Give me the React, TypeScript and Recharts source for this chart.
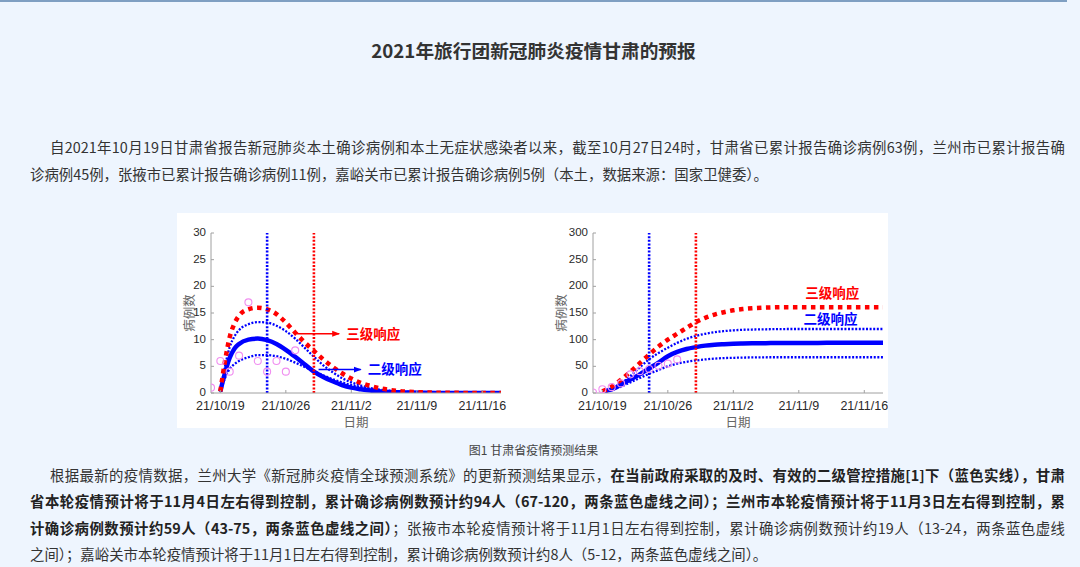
import React from 'react';
import { ComposedChart, Line, Scatter, XAxis, YAxis, ReferenceLine, ReferenceDot, Label } from 'recharts';

// ---- data ----
const days = [-1, 0, 0.5, 1, 1.5, 2, 3, 4, 5, 6, 7, 8, 9, 10, 11, 12, 13, 14, 15, 16, 17, 18, 19, 20, 22, 24, 26, 28, 30];
const dailyMid = [null, 0.3, 3.8, 6.6, 8.3, 9.2, 10.0, 10.2, 9.9, 9.2, 8.1, 6.8, 5.4, 4.0, 3.0, 2.2, 1.5, 1.0, 0.7, 0.45, 0.3, 0.2, 0.12, 0.08, 0.03, 0.01, 0, 0, 0];
const dailyHigh = [null, 0.3, 5.0, 8.6, 10.6, 11.8, 12.9, 13.3, 13.2, 12.6, 11.6, 10.2, 8.5, 6.8, 5.2, 3.9, 2.8, 2.0, 1.4, 0.95, 0.65, 0.45, 0.3, 0.2, 0.08, 0.03, 0.01, 0, 0];
const dailyLow = [null, 0.2, 2.8, 4.5, 5.4, 6.0, 6.7, 7.1, 7.1, 6.9, 6.4, 5.7, 4.9, 4.1, 3.3, 2.6, 2.0, 1.5, 1.1, 0.8, 0.55, 0.4, 0.28, 0.2, 0.09, 0.04, 0.02, 0, 0];
const dailyRed = [null, 0.3, 6.0, 10.5, 13.0, 14.5, 15.7, 16.0, 15.7, 14.8, 13.2, 11.3, 9.5, 7.9, 6.3, 4.9, 3.7, 2.7, 1.9, 1.35, 0.9, 0.6, 0.38, 0.24, 0.1, 0.04, 0.02, 0, 0];

const cumMid = [null, 2, 4.5, 7, 11, 16, 25.5, 35, 46, 57, 69, 77, 82.5, 86, 88.8, 90.5, 91.5, 92.3, 92.8, 93.2, 93.4, 93.6, 93.7, 93.8, 93.9, 94, 94, 94, 94];
const cumHigh = [null, 2, 5, 8, 12.5, 18, 32, 48, 63, 75, 85, 94, 101.5, 107, 111, 114, 116, 117.5, 118.5, 119, 119.3, 119.6, 119.8, 120, 120, 120, 120, 120, 120];
const cumLow = [null, 1.5, 3.5, 6, 9, 12, 20, 28, 36, 43, 50, 55, 58.5, 61, 63, 64.5, 65.5, 66, 66.4, 66.7, 66.9, 67, 67, 67, 67, 67, 67, 67, 67];
const cumRed = [null, 3, 7, 12, 18, 25, 40, 56, 72, 87, 100, 111, 122, 133, 141, 147, 151.5, 155, 157.3, 158.8, 159.8, 160.4, 160.8, 161, 161, 161, 161, 161, 161];

const obsDays = [-1, 0, 1, 2, 3, 4, 5, 6, 7, 8];
const obsDaily = [1, 6, 4, 7, 17, 6, 4, 6, 4, 8];
const obsCum = [1, 7, 11, 18, 35, 41, 45, 51, 55, 63];

const tickDays = [0, 7, 14, 21, 28];
const tickLabels = ['21/10/19', '21/10/26', '21/11/2', '21/11/9', '21/11/16'];
const dailyTicks = [0, 5, 10, 15, 20, 25, 30];
const cumTicks = [0, 50, 100, 150, 200, 250, 300];

const dailyData = days.map((d, i) => ({ d, mid: dailyMid[i], hi: dailyHigh[i], lo: dailyLow[i], red: dailyRed[i] }));
const cumData = days.map((d, i) => ({ d, mid: cumMid[i], hi: cumHigh[i], lo: cumLow[i], red: cumRed[i] }));
const dailyObs = obsDays.map((d, i) => ({ d, v: obsDaily[i] }));
const cumObs = obsDays.map((d, i) => ({ d, v: obsCum[i] }));

// ---- styles ----
const BLUE = '#0000ff';
const RED = '#ff0000';
const AXIS = '#a0a0a0';
const CJK = '"Noto Sans CJK SC", "Noto Sans", sans-serif';
const XTICK = { fill: '#2a2a2a', fontSize: 12.5, fontFamily: '"Liberation Sans", Arial, sans-serif' };
const YTICK = { fill: '#2a2a2a', fontSize: 11.5, dy: -1, fontFamily: '"Liberation Sans", Arial, sans-serif' };

const YTitle = (props: any) => {
  const vb = props.viewBox || { x: 0, y: 0, width: 0, height: 0 };
  const cx = vb.x + props.dx0;
  const cy = vb.y + vb.height / 2;
  return (
    <text x={cx} y={cy} transform={`rotate(-90 ${cx} ${cy})`} textAnchor="middle" dominantBaseline="central"
      fontSize={12.5} fill="#666" fontFamily={CJK}>病例数</text>
  );
};

const Circle = (p: any) => <circle cx={p.cx} cy={p.cy} r={3.5} fill="none" stroke="#f08ef0" strokeWidth={1.1} />;

type PanelProps = {
  data: any[]; obs: any[]; title: string; yTicks: number[]; yMax: number;
  width: number; yAxisWidth: number; marginRight: number; yLabelDx: number; children?: React.ReactNode;
};

function Panel({ data, obs, title, yTicks, yMax, width, yAxisWidth, marginRight, yLabelDx, children }: PanelProps) {
  return (
    <ComposedChart width={width} height={222} data={data} margin={{ top: 20, right: marginRight, left: 0, bottom: 7 }}>
      <defs>
        <marker id="arrR" markerWidth="8" markerHeight="8" refX="7" refY="4" orient="auto" markerUnits="userSpaceOnUse">
          <path d="M0,1 L8,4 L0,7 Z" fill={RED} />
        </marker>
        <marker id="arrB" markerWidth="8" markerHeight="8" refX="7" refY="4" orient="auto" markerUnits="userSpaceOnUse">
          <path d="M0,1 L8,4 L0,7 Z" fill={BLUE} />
        </marker>
      </defs>
      <XAxis dataKey="d" type="number" domain={[-1, 30]} ticks={tickDays} interval={0} allowDataOverflow
        tickFormatter={(v: number) => tickLabels[tickDays.indexOf(v)]} height={35} tickSize={-3} tickMargin={11}
        stroke={AXIS} tick={XTICK}>
        <Label value="日期" position="insideBottom" offset={1} fill="#666" fontSize={12.5} fontFamily={CJK} />
      </XAxis>
      <XAxis xAxisId="top" orientation="top" dataKey="d" type="number" domain={[-1, 30]} ticks={tickDays} interval={0}
        allowDataOverflow height={0} tickSize={-3} tick={false} stroke={AXIS}>
        <Label value={title} position="top" offset={4} fill="#555" fontSize={12} fontFamily={CJK} />
      </XAxis>
      <YAxis type="number" domain={[0, yMax]} ticks={yTicks} interval={0} allowDataOverflow width={yAxisWidth}
        tickSize={-3} tickMargin={8} stroke={AXIS} tick={YTICK}>
        <Label content={(p: any) => <YTitle {...p} dx0={yLabelDx} />} />
      </YAxis>
      <YAxis yAxisId="right" orientation="right" type="number" domain={[0, yMax]} ticks={yTicks} interval={0}
        width={0} tickSize={-3} tick={false} stroke={AXIS} />
      <Scatter data={obs} dataKey="v" shape={Circle} isAnimationActive={false} />
      <Line type="monotone" dataKey="lo" stroke={BLUE} strokeWidth={2.3} strokeDasharray="2 1.6" dot={false} isAnimationActive={false} />
      <Line type="monotone" dataKey="hi" stroke={BLUE} strokeWidth={2.3} strokeDasharray="2 1.6" dot={false} isAnimationActive={false} />
      <Line type="monotone" dataKey="mid" stroke={BLUE} strokeWidth={4.5} dot={false} isAnimationActive={false} />
      <Line type="monotone" dataKey="red" stroke={RED} strokeWidth={4.5} strokeDasharray="4.5 4.5" dot={false} isAnimationActive={false} />
      <ReferenceLine x={5} stroke={BLUE} strokeWidth={2.6} strokeDasharray="2 1.6" />
      <ReferenceLine x={10} stroke={RED} strokeWidth={2.6} strokeDasharray="2 1.6" />
      {children}
    </ComposedChart>
  );
}

const annot = { fontSize: 13.5, fontWeight: 700, fontFamily: CJK };

const base: React.CSSProperties = {
  position: 'absolute', fontFamily: CJK, color: '#333', fontSize: 14.4, lineHeight: '26px', height: 26, margin: 0,
};
const just: React.CSSProperties = { ...base, textAlign: 'justify', textAlignLast: 'justify' as any };
const B = ({ children }: { children: React.ReactNode }) => <b style={{ fontWeight: 700, color: '#222' }}>{children}</b>;

export default function App() {
  return (
    <div style={{ position: 'absolute', left: 0, top: 0, width: 1080, height: 567, background: '#eef5fe', overflow: 'hidden' }}>
      <div style={{ position: 'absolute', left: 0, top: 0, width: 1067, height: 2, background: '#7f9fc2' }} />
      <div style={{ position: 'absolute', left: 0, top: 35, width: 1067, textAlign: 'center', fontFamily: CJK, fontWeight: 700, fontSize: 18.7, lineHeight: '30px', color: '#333' }}>
        2021年旅行团新冠肺炎疫情甘肃的预报
      </div>

      <div style={{ ...just, left: 50, width: 1015, top: 134 }}>
        自2021年10月19日甘肃省报告新冠肺炎本土确诊病例和本土无症状感染者以来，截至10月27日24时，甘肃省已累计报告确诊病例63例，兰州市已累计报告确
      </div>
      <div style={{ ...base, left: 30, top: 161, whiteSpace: 'nowrap' }}>
        诊病例45例，张掖市已累计报告确诊病例11例，嘉峪关市已累计报告确诊病例5例（本土，数据来源：国家卫健委）。
      </div>

      <div style={{ position: 'absolute', left: 177, top: 213, width: 711, height: 215, background: '#ffffff' }}>
        <div style={{ position: 'absolute', left: 0, top: 0 }}>
          <Panel data={dailyData} obs={dailyObs} title="每日新增确诊" yTicks={dailyTicks} yMax={30}
            width={340} yAxisWidth={34} marginRight={16} yLabelDx={11}>
            <ReferenceLine segment={[{ x: 8.2, y: 11.1 }, { x: 12.7, y: 11.1 }]} stroke={RED} strokeWidth={1.5}
              markerEnd="url(#arrR)" label={{ value: '三级响应', position: 'right', offset: 7, fill: RED, ...annot }} />
            <ReferenceLine segment={[{ x: 10.5, y: 4.4 }, { x: 15.0, y: 4.4 }]} stroke={BLUE} strokeWidth={1.5}
              markerEnd="url(#arrB)" label={{ value: '二级响应', position: 'right', offset: 7, fill: BLUE, ...annot }} />
          </Panel>
        </div>
        <div style={{ position: 'absolute', left: 368, top: 0 }}>
          <Panel data={cumData} obs={cumObs} title="累计确诊" yTicks={cumTicks} yMax={300}
            width={343} yAxisWidth={48} marginRight={5} yLabelDx={15}>
            <ReferenceDot x={21.7} y={188} r={0} fill="none" stroke="none"
              label={{ value: '三级响应', position: 'right', offset: 0, fill: RED, ...annot }} />
            <ReferenceDot x={21.5} y={139} r={0} fill="none" stroke="none"
              label={{ value: '二级响应', position: 'right', offset: 0, fill: BLUE, ...annot }} />
          </Panel>
        </div>
      </div>

      <div style={{ position: 'absolute', left: 0, top: 440, width: 1067, textAlign: 'center', fontFamily: CJK, fontSize: 12, lineHeight: '20px', color: '#444' }}>
        图1 甘肃省疫情预测结果
      </div>

      <div style={{ ...just, left: 50, width: 1015, top: 462 }}>
        根据最新的疫情数据，兰州大学《新冠肺炎疫情全球预测系统》的更新预测结果显示，<B>在当前政府采取的及时、有效的二级管控措施[1]下（蓝色实线），甘肃</B>
      </div>
      <div style={{ ...just, left: 30, width: 1035, top: 488 }}>
        <B>省本轮疫情预计将于11月4日左右得到控制，累计确诊病例数预计约94人（67-120，两条蓝色虚线之间）；兰州市本轮疫情预计将于11月3日左右得到控制，累</B>
      </div>
      <div style={{ ...just, left: 30, width: 1035, top: 515 }}>
        <B>计确诊病例数预计约59人（43-75，两条蓝色虚线之间）</B>；张掖市本轮疫情预计将于11月1日左右得到控制，累计确诊病例数预计约19人（13-24，两条蓝色虚线
      </div>
      <div style={{ ...base, left: 30, top: 541, whiteSpace: 'nowrap' }}>
        之间）；嘉峪关市本轮疫情预计将于11月1日左右得到控制，累计确诊病例数预计约8人（5-12，两条蓝色虚线之间）。
      </div>
    </div>
  );
}
